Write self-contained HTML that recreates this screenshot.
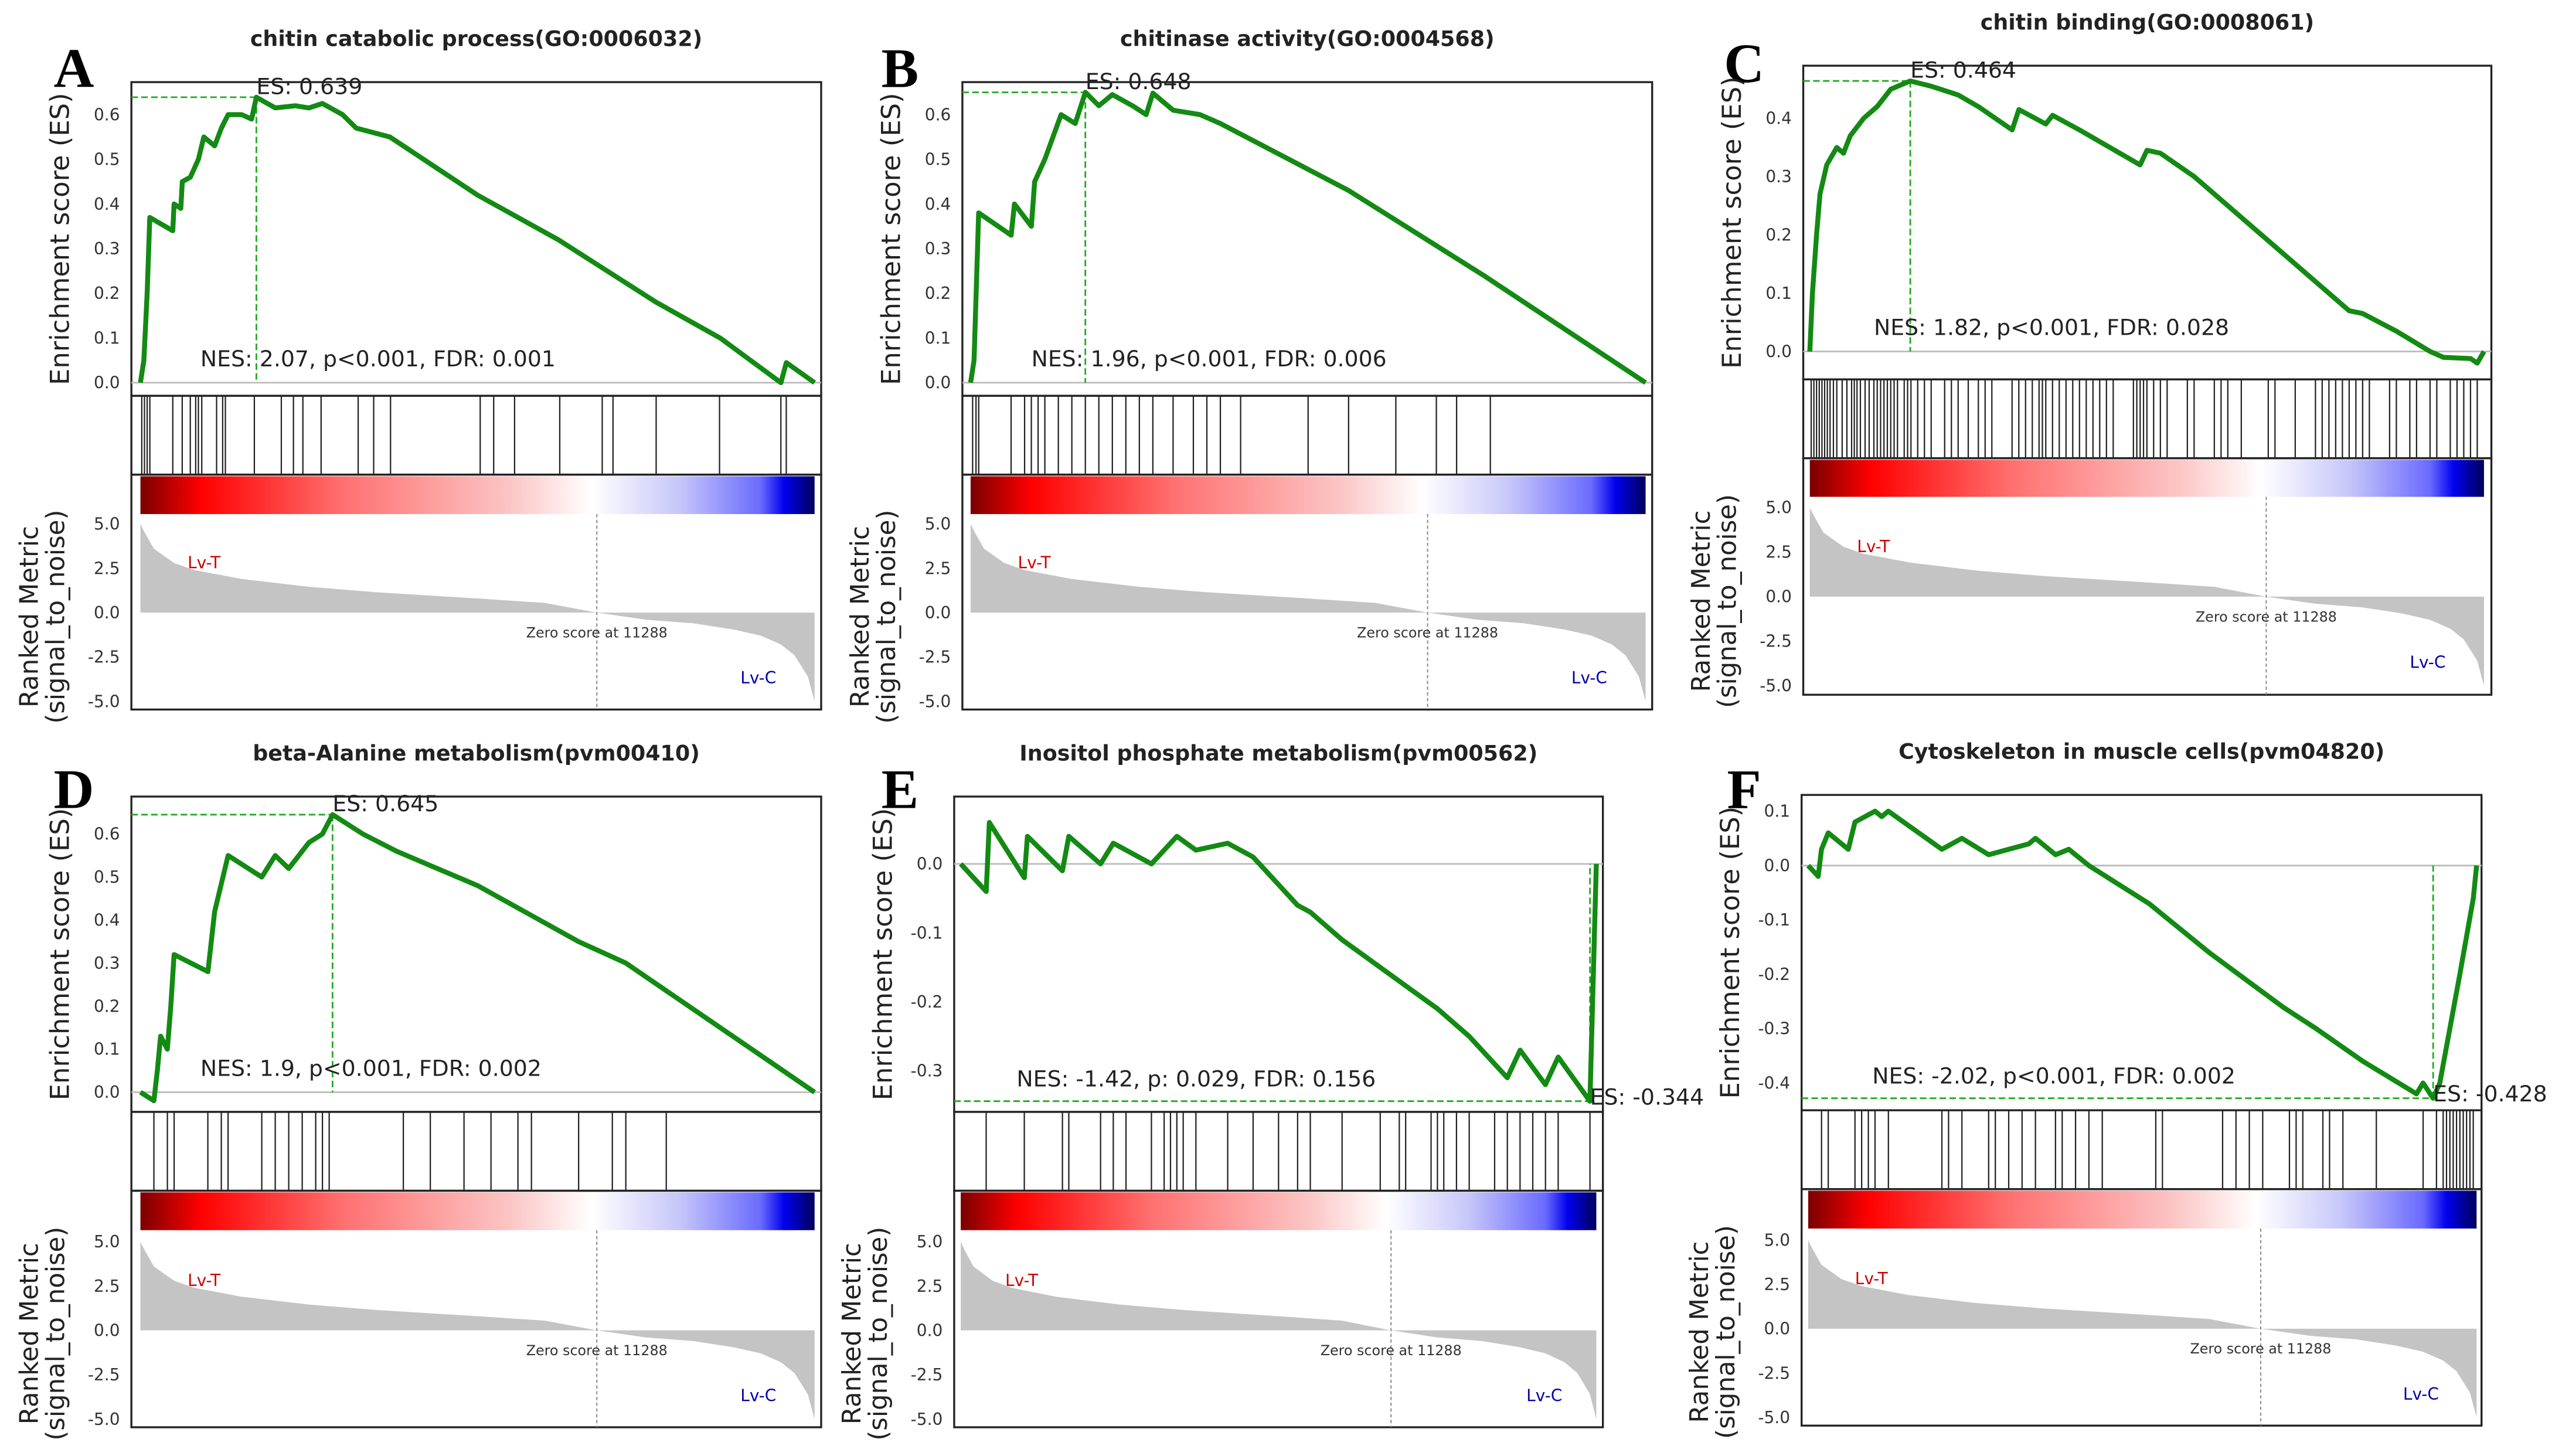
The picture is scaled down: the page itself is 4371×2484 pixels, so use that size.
<!DOCTYPE html>
<html><head><meta charset="utf-8"><style>
html,body{margin:0;padding:0;background:#fff;}
svg{display:block;}
text{font-family:"DejaVu Sans","Liberation Sans",sans-serif;}
</style></head><body>
<svg id="fig" xmlns="http://www.w3.org/2000/svg" width="4371" height="2484" viewBox="0 0 1560 886.5" preserveAspectRatio="none">
<defs>
<linearGradient id="cb" x1="0" x2="1" y1="0" y2="0">
<stop offset="0" stop-color="#7a0000"/><stop offset="0.09" stop-color="#ff0000"/>
<stop offset="0.3" stop-color="#ff7070"/><stop offset="0.55" stop-color="#fcc6c6"/>
<stop offset="0.67" stop-color="#ffffff"/><stop offset="0.8" stop-color="#c6c6fa"/>
<stop offset="0.92" stop-color="#6a6aff"/><stop offset="0.955" stop-color="#0000ee"/>
<stop offset="1" stop-color="#00005a"/></linearGradient>
</defs>
</svg>
<script>
// Shared ranked metric (fraction of ranked list, signal_to_noise)
const rankPos = [0,0.005,0.02,0.05,0.08,0.15,0.25,0.35,0.5,0.6,0.677,0.75,0.82,0.88,0.92,0.95,0.97,0.99,1.0];
const rankVal = [5.0,4.6,3.6,2.8,2.4,1.9,1.45,1.15,0.8,0.55,0.0,-0.4,-0.6,-0.95,-1.3,-1.8,-2.4,-3.6,-5.0];
const zeroFrac = 0.677;

// Panel A
const esPosA = [0,0.005,0.01,0.014,0.048,0.05,0.06,0.062,0.074,0.086,0.094,0.11,0.12,0.13,0.15,0.165,0.172,0.2,0.23,0.25,0.27,0.3,0.32,0.37,0.5,0.62,0.765,0.86,0.95,0.958,1.0];
const esValA = [0,0.05,0.2,0.37,0.34,0.4,0.39,0.45,0.46,0.5,0.55,0.53,0.57,0.6,0.6,0.59,0.639,0.615,0.62,0.615,0.625,0.6,0.57,0.55,0.42,0.32,0.18,0.1,0.0,0.045,0.0];
const hitsA = [0.002,0.006,0.01,0.014,0.048,0.062,0.074,0.082,0.086,0.091,0.113,0.122,0.126,0.169,0.209,0.227,0.241,0.268,0.323,0.346,0.371,0.504,0.524,0.555,0.622,0.685,0.701,0.765,0.859,0.95,0.958];
// Panel B
const esPosB = [0,0.005,0.012,0.06,0.065,0.09,0.095,0.11,0.134,0.155,0.17,0.19,0.21,0.24,0.26,0.27,0.3,0.34,0.37,0.56,0.76,1.0];
const esValB = [0,0.05,0.38,0.33,0.4,0.35,0.45,0.5,0.6,0.58,0.65,0.62,0.645,0.62,0.6,0.648,0.61,0.6,0.58,0.43,0.24,0.0];
const hitsB = [0.003,0.008,0.012,0.06,0.08,0.09,0.1,0.11,0.13,0.15,0.17,0.19,0.21,0.23,0.25,0.27,0.3,0.33,0.35,0.37,0.4,0.5,0.56,0.63,0.69,0.72,0.77];
// Panel C
const esPosC = [0,0.004,0.01,0.015,0.025,0.04,0.05,0.06,0.08,0.1,0.12,0.149,0.18,0.22,0.25,0.3,0.31,0.35,0.36,0.4,0.49,0.5,0.52,0.57,0.72,0.8,0.82,0.87,0.92,0.94,0.98,0.99,1.0];
const esValC = [0,0.1,0.2,0.27,0.32,0.35,0.34,0.37,0.4,0.42,0.45,0.464,0.455,0.44,0.42,0.38,0.415,0.39,0.405,0.38,0.32,0.345,0.34,0.3,0.15,0.07,0.065,0.035,0.0,-0.01,-0.012,-0.02,0.0];
const hitsC = [0.002,0.006,0.01,0.014,0.018,0.022,0.026,0.03,0.035,0.04,0.048,0.055,0.062,0.066,0.07,0.075,0.082,0.088,0.095,0.1,0.105,0.11,0.115,0.12,0.125,0.13,0.14,0.145,0.15,0.16,0.17,0.18,0.2,0.21,0.22,0.235,0.25,0.26,0.27,0.3,0.31,0.32,0.33,0.34,0.345,0.35,0.36,0.37,0.38,0.39,0.4,0.41,0.42,0.43,0.44,0.45,0.48,0.485,0.49,0.495,0.5,0.51,0.52,0.53,0.56,0.57,0.6,0.61,0.62,0.64,0.68,0.69,0.72,0.75,0.76,0.77,0.78,0.79,0.8,0.81,0.82,0.83,0.86,0.87,0.89,0.9,0.92,0.93,0.95,0.96,0.97,0.98,0.99];
// Panel D
const esPosD = [0,0.02,0.025,0.03,0.04,0.045,0.05,0.1,0.11,0.13,0.18,0.2,0.22,0.25,0.27,0.285,0.33,0.38,0.5,0.65,0.72,1.0];
const esValD = [0,-0.02,0.05,0.13,0.1,0.2,0.32,0.28,0.42,0.55,0.5,0.55,0.52,0.58,0.6,0.645,0.6,0.56,0.48,0.35,0.3,0.0];
const hitsD = [0.02,0.04,0.05,0.1,0.12,0.13,0.18,0.2,0.22,0.24,0.26,0.27,0.28,0.39,0.43,0.48,0.52,0.56,0.58,0.65,0.7,0.72,0.78];
// Panel E
const esPosE = [0,0.04,0.045,0.1,0.105,0.16,0.17,0.22,0.24,0.3,0.34,0.37,0.42,0.46,0.5,0.53,0.55,0.6,0.75,0.8,0.86,0.88,0.92,0.94,0.99,1.0];
const esValE = [0,-0.04,0.06,-0.02,0.04,-0.01,0.04,0.0,0.03,0.0,0.04,0.02,0.03,0.01,-0.03,-0.06,-0.07,-0.11,-0.21,-0.25,-0.31,-0.27,-0.32,-0.28,-0.344,0.0];
const hitsE = [0.04,0.1,0.16,0.17,0.22,0.24,0.26,0.3,0.32,0.33,0.34,0.35,0.37,0.42,0.46,0.5,0.53,0.55,0.6,0.66,0.69,0.7,0.74,0.75,0.76,0.78,0.8,0.84,0.86,0.88,0.9,0.92,0.94,0.99];
// Panel F
const esPosF = [0,0.015,0.02,0.03,0.06,0.07,0.1,0.11,0.12,0.2,0.23,0.27,0.33,0.34,0.37,0.39,0.42,0.51,0.6,0.71,0.76,0.83,0.91,0.92,0.935,0.945,0.96,0.975,0.995,1.0];
const esValF = [0,-0.02,0.03,0.06,0.03,0.08,0.1,0.09,0.1,0.03,0.05,0.02,0.04,0.05,0.02,0.03,0.0,-0.07,-0.16,-0.26,-0.3,-0.36,-0.42,-0.4,-0.428,-0.4,-0.3,-0.2,-0.06,0.0];
const hitsF = [0.02,0.03,0.07,0.08,0.09,0.1,0.12,0.2,0.21,0.23,0.27,0.28,0.3,0.32,0.34,0.37,0.38,0.4,0.42,0.44,0.52,0.53,0.62,0.64,0.66,0.68,0.72,0.73,0.74,0.77,0.78,0.8,0.85,0.92,0.94,0.95,0.955,0.96,0.965,0.97,0.975,0.98,0.985,0.99,0.995];

const ticksA = [0,0.1,0.2,0.3,0.4,0.5,0.6];
const ticksC = [0,0.1,0.2,0.3,0.4];
const ticksE = [0,-0.1,-0.2,-0.3];
const ticksF = [0.1,0,-0.1,-0.2,-0.3,-0.4];
const rankTicks = [5.0,2.5,0.0,-2.5,-5.0];

const panels = [
 {id:'a',letter:'A',title:'chitin catabolic process(GO:0006032)',nes:'NES: 2.07, p<0.001, FDR: 0.001',es:'ES: 0.639',pos:esPosA,val:esValA,hits:hitsA,ticks:ticksA,
  bx:80,bw:420,dl:85.5,dr:496,top:50,zero:233,unit:272,esB:241,hitB:289,cbB:313,rB:432,r5:319,rm5:427,lx:45,ly:53},
 {id:'b',letter:'B',title:'chitinase activity(GO:0004568)',nes:'NES: 1.96, p<0.001, FDR: 0.006',es:'ES: 0.648',pos:esPosB,val:esValB,hits:hitsB,ticks:ticksA,
  bx:586,bw:420,dl:591,dr:1002,top:50,zero:233,unit:272,esB:241,hitB:289,cbB:313,rB:432,r5:319,rm5:427,lx:548,ly:53},
 {id:'c',letter:'C',title:'chitin binding(GO:0008061)',nes:'NES: 1.82, p<0.001, FDR: 0.028',es:'ES: 0.464',pos:esPosC,val:esValC,hits:hitsC,ticks:ticksC,
  bx:1098,bw:419,dl:1102,dr:1512.5,top:40,zero:214,unit:355,esB:231,hitB:279,cbB:302.5,rB:423,r5:309,rm5:417.5,lx:1062,ly:50},
 {id:'d',letter:'D',title:'beta-Alanine metabolism(pvm00410)',nes:'NES: 1.9, p<0.001, FDR: 0.002',es:'ES: 0.645',pos:esPosD,val:esValD,hits:hitsD,ticks:ticksA,
  bx:80,bw:420,dl:85.5,dr:496,top:485,zero:665,unit:262,esB:677,hitB:725,cbB:749,rB:869,r5:756,rm5:864,lx:45,ly:492},
 {id:'e',letter:'E',title:'Inositol phosphate metabolism(pvm00562)',nes:'NES: -1.42, p: 0.029, FDR: 0.156',es:'ES: -0.344',pos:esPosE,val:esValE,hits:hitsE,ticks:ticksE,
  bx:581,bw:395,dl:585,dr:972,top:485,zero:526,unit:420,esB:677,hitB:725,cbB:749,rB:869,r5:756,rm5:864,lx:548,ly:492},
 {id:'f',letter:'F',title:'Cytoskeleton in muscle cells(pvm04820)',nes:'NES: -2.02, p<0.001, FDR: 0.002',es:'ES: -0.428',pos:esPosF,val:esValF,hits:hitsF,ticks:ticksF,
  bx:1097,bw:414,dl:1101,dr:1508,top:484,zero:527,unit:331,esB:676,hitB:724,cbB:748,rB:868,r5:755,rm5:863,lx:1062,ly:492}
];

const svg = document.getElementById('fig');
const NS = 'http://www.w3.org/2000/svg';
function mk(tag, attrs, parent){
  const e = document.createElementNS(NS, tag);
  for (const k in attrs) e.setAttribute(k, attrs[k]);
  (parent||svg).appendChild(e);
  return e;
}
function txt(s, attrs, parent){ const t = mk('text', attrs, parent); t.textContent = s; return t; }

panels.forEach(p => {
  const g = mk('g', {});
  
  
  const xs = f => p.dl + f * (p.dr - p.dl);
  const ys = v => p.zero - v * p.unit;
  const ry = v => { const z = (p.r5 + p.rm5) / 2; return z - v * (p.rm5 - p.r5) / 10; };
  const cx = p.bx + p.bw / 2;

  const title = txt(p.title, {x: cx, y: p.top - 22, 'text-anchor':'middle', 'font-size':13, 'font-weight':'bold', fill:'#222'}, g);
  
  
  const letter = txt(p.letter, {x: p.lx, y: p.ly, 'text-anchor':'middle', 'font-size':34, 'font-weight':'bold', fill:'#000', style:'font-family:"Liberation Serif",serif'}, g);
  
  

  const esBox = mk('rect', {x:p.bx, y:p.top, width:p.bw, height:p.esB - p.top, fill:'none', stroke:'#222', 'stroke-width':1.2}, g);
  
  
  const zl = mk('line', {x1:p.bx, x2:p.bx + p.bw, y1:p.zero, y2:p.zero, stroke:'#bbb', 'stroke-width':1}, g);
  
  
  p.ticks.forEach(t => {
    const tl = txt(t.toFixed(1), {x: p.bx - 7, y: ys(t) + 3.5, 'text-anchor':'end', 'font-size':10, fill:'#333'}, g);
    
    
  });
  const yl = txt('Enrichment score (ES)', {x:0, y:0, 'text-anchor':'middle', 'font-size':16, fill:'#222', transform:`translate(${p.bx - 38},${(p.top + p.esB)/2}) rotate(-90)`}, g);
  
  

  let idx = 0;
  p.val.forEach((v, i) => { if (Math.abs(v) > Math.abs(p.val[idx])) idx = i; });
  const px = xs(p.pos[idx]), py = ys(p.val[idx]);
  const dh = mk('line', {x1:p.bx, x2:px, y1:py, y2:py, stroke:'#22aa22', 'stroke-width':1, 'stroke-dasharray':'4,2'}, g);
  
  
  const dv = mk('line', {x1:px, x2:px, y1:py, y2:p.zero, stroke:'#22aa22', 'stroke-width':1, 'stroke-dasharray':'4,2'}, g);
  
  

  const path = p.pos.map((f, i) => (i ? 'L' : 'M') + xs(f).toFixed(1) + ',' + ys(p.val[i]).toFixed(1)).join(' ');
  const curve = mk('path', {d:path, fill:'none', stroke:'#138a13', 'stroke-width':3, 'stroke-linejoin':'round'}, g);
  
  

  const esT = txt(p.es, {x: px, y: p.val[idx] > 0 ? py - 2 : py + 2, 'font-size':13.5, fill:'#222'}, g);
  
  
  const nesX = p.id === 'c' || p.id === 'f' ? p.bx + 43 : (p.id === 'e' ? p.bx + 38 : p.bx + 42);
  const nesY = p.id === 'e' || p.id === 'f' ? ys(p.val[idx]) - 9 : p.zero - 10;
  const nes = txt(p.nes, {x: nesX, y: nesY, 'font-size':13.5, fill:'#222'}, g);
  
  

  const hb = mk('rect', {x:p.bx, y:p.esB, width:p.bw, height:p.hitB - p.esB, fill:'#fff', stroke:'#222', 'stroke-width':1.2}, g);
  
  
  p.hits.forEach(f => {
    const h = mk('line', {x1:xs(f), x2:xs(f), y1:p.esB, y2:p.hitB, stroke:'#222', 'stroke-width':0.8}, g);
    
    
  });

  const rb = mk('rect', {x:p.bx, y:p.hitB, width:p.bw, height:p.rB - p.hitB, fill:'none', stroke:'#222', 'stroke-width':1.2}, g);
  
  
  const cb = mk('rect', {x:p.dl, y:p.hitB + 1, width:p.dr - p.dl, height:p.cbB - p.hitB - 1, fill:'url(#cb)'}, g);
  
  

  let area = 'M' + xs(0) + ',' + ry(0);
  rankPos.forEach((f, i) => { area += ' L' + xs(f).toFixed(1) + ',' + ry(rankVal[i]).toFixed(1); });
  area += ' L' + xs(1) + ',' + ry(0) + ' Z';
  const ra = mk('path', {d:area, fill:'#c4c4c4', stroke:'none'}, g);
  
  
  const zv = mk('line', {x1:xs(zeroFrac), x2:xs(zeroFrac), y1:p.cbB, y2:p.rB, stroke:'#888', 'stroke-width':0.7, 'stroke-dasharray':'2,1.5'}, g);
  
  
  const zt = txt('Zero score at 11288', {x: xs(zeroFrac), y: ry(-1.4), 'text-anchor':'middle', 'font-size':8.5, fill:'#333'}, g);
  
  
  const lt = txt('Lv-T', {x: xs(0.07), y: ry(2.5), 'font-size':10, fill:'#cc0000'}, g);
  
  
  const lc = txt('Lv-C', {x: xs(0.89), y: ry(-4), 'font-size':10, fill:'#0000aa'}, g);
  
  
  rankTicks.forEach(t => {
    const tl = txt(t.toFixed(1), {x: p.bx - 7, y: ry(t) + 3.5, 'text-anchor':'end', 'font-size':10, fill:'#333'}, g);
    
    
  });
  const rc = (p.hitB + p.rB) / 2 + 15;
  const r1 = txt('Ranked Metric', {x:0, y:0, 'text-anchor':'middle', 'font-size':15.5, fill:'#222', transform:`translate(${p.bx - 57},${rc}) rotate(-90)`}, g);
  
  
  const r2 = txt('(signal_to_noise)', {x:0, y:0, 'text-anchor':'middle', 'font-size':15.5, fill:'#222', transform:`translate(${p.bx - 41},${rc}) rotate(-90)`}, g);
  
  
});
</script>
</body></html>
